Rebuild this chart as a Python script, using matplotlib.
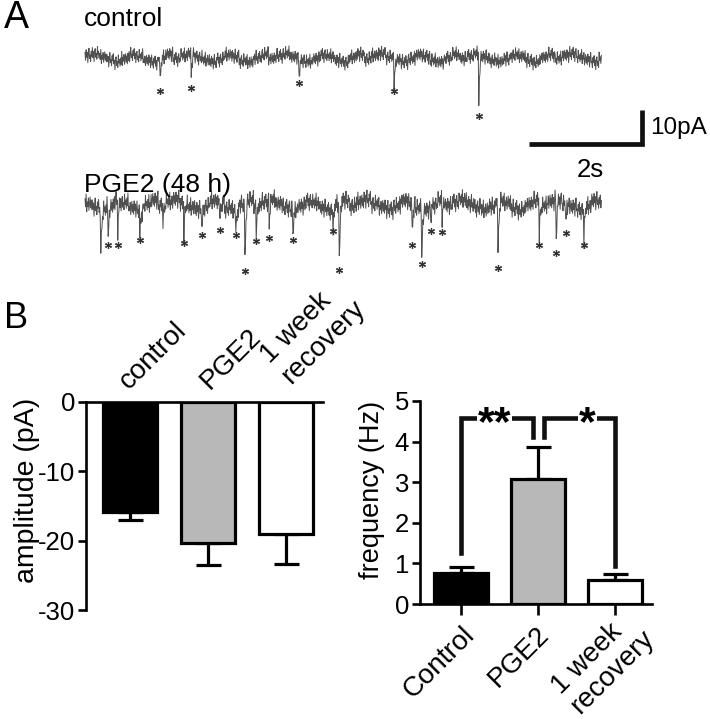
import numpy as np
import matplotlib
matplotlib.use('Agg')
import matplotlib.pyplot as plt
import matplotlib.transforms as mtransforms

plt.rcParams['font.family'] = ['Liberation Sans', 'DejaVu Sans']
plt.rcParams['axes.unicode_minus'] = False

# ---- bar chart data ----
amp_groups = ['control', 'PGE2', '1 week\nrecovery']
amp_mean = [-15.8, -20.3, -19.1]
amp_sem = [1.2, 3.2, 4.2]

freq_groups = ['Control', 'PGE2', '1 week\nrecovery']
freq_mean = [0.77, 3.08, 0.60]
freq_sem = [0.14, 0.79, 0.14]

bar_colors = ['black', '#b8b8b8', 'white']

# ---- example traces: event times (s) and peak amplitudes (pA) ----
ctrl_event_t = [1.33, 1.88, 3.79, 5.47, 6.97]
ctrl_event_amp = [-7.4, -6.5, -5.0, -7.4, -14.7]

pge2_event_t = [0.28, 0.41, 0.58, 0.97, 1.38, 1.75, 2.07, 2.39, 2.67, 2.83, 3.03, 3.26,
                3.68, 4.39, 4.50, 5.79, 5.96, 6.12, 6.32, 7.31, 8.04, 8.34, 8.51, 8.83]
pge2_event_amp = [-13.8, -9.4, -9.4, -7.9, -3.8, -8.8, -6.5, -5.0, -6.5, -17.1, -8.2, -7.4,
                  -7.9, -5.3, -16.8, -9.4, -15.0, -5.3, -5.6, -16.2, -9.4, -11.8, -5.9, -9.4]
pge2_event_star = [0, 1, 1, 1, 0, 1, 1, 1, 1, 1, 1, 1,
                   1, 1, 1, 1, 1, 1, 1, 1, 1, 1, 1, 1]

noise_fast = [0.8, -1.2, 1.5, -0.4, 0.9, -1.8, 0.3, 1.9, -0.7, 0.2, -1.5, 1.1, -0.2,
              1.6, -1.0, 0.5, -2.0, 0.7, 1.3, -0.9, 0.1, -1.4, 1.8, -0.3, 0.6, -1.1,
              1.0, -0.6, 2.0, -1.6, 0.4, -0.5, 1.2, -1.3, 0.0, 1.4, -0.8]
noise_slow = [0.6, 1.1, 0.2, -0.5, -1.0, -0.3, 0.8, 0.4, -0.7, -1.1, 0.1, 0.9, -0.2]

sweep_len = 9.15
dt = 0.01

W, H = 710, 719
fig = plt.figure(figsize=(W / 100, H / 100), dpi=100)


def px_axes(x0, y0, x1, y1):
    return fig.add_axes([x0 / W, 1 - y1 / H, (x1 - x0) / W, (y1 - y0) / H])


def make_trace(ev_t, ev_a, scale, shift):
    t = np.arange(0, sweep_len, dt)
    n = len(t)
    fast = np.resize(np.roll(noise_fast, shift), n)
    slow = np.resize(np.repeat(np.roll(noise_slow, shift), 13), n)
    y = scale * (fast + slow)
    kern = np.array([1.0, 0.6, 0.3, 0.15, 0.06])
    for t0, a in zip(ev_t, ev_a):
        i = int(round(t0 / dt))
        seg = y[i:i + 5]
        y[i:i + 5] = seg + a * kern[:len(seg)]
    return t, y


# ---------------- panel A: traces ----------------
axA = px_axes(60, 40, 700, 280)
axA.set_xlim(-25 / 56.5, 615 / 56.5)
axA.set_ylim(-222 / 3.4, 18 / 3.4)
axA.axis('off')

pge2_offset = -43.2
t, y = make_trace(ctrl_event_t, ctrl_event_amp, 1.15, 0)
axA.plot(t, y, color='#505050', lw=0.7)
axA.plot(ctrl_event_t, np.array(ctrl_event_amp) - 2.3, ls='none',
         marker=(6, 2, 0), ms=5, mew=0.9, color='#333333')

t, y = make_trace(pge2_event_t, pge2_event_amp, 1.45, 11)
axA.plot(t, y + pge2_offset, color='#505050', lw=0.7)
st_t = [a for a, s in zip(pge2_event_t, pge2_event_star) if s]
st_a = [a for a, s in zip(pge2_event_amp, pge2_event_star) if s]
axA.plot(st_t, np.array(st_a) - 2.3 + pge2_offset, ls='none',
         marker=(6, 2, 0), ms=5, mew=0.9, color='#333333')

# scale bar 2 s / 10 pA
axA.plot([7.86, 9.86, 9.86], [-25.3, -25.3, -15.3], color='#111111', lw=3.4,
         solid_joinstyle='miter', solid_capstyle='butt')
axA.text(10.0, -20.6, '10pA', fontsize=17.5, va='center', ha='left')
axA.text(8.95, -32.9, '2s', fontsize=18.5, va='center', ha='center')

fig.text(84 / W, 1 - 26 / H, 'control', fontsize=19, va='baseline', ha='left')
fig.text(84 / W, 1 - 192 / H, 'PGE2 (48 h)', fontsize=19, va='baseline', ha='left')
fig.text(4 / W, 1 - 28 / H, 'A', fontsize=27, va='baseline', ha='left')
fig.text(4 / W, 1 - 328 / H, 'B', fontsize=26, va='baseline', ha='left')

# ---------------- panel B left: amplitude ----------------
ax1 = px_axes(86, 402, 323, 610)
x = np.arange(len(amp_mean))
ax1.bar(x, amp_mean, width=0.69, color=bar_colors, edgecolor='black', linewidth=2.3, zorder=3)
ax1.errorbar(x, amp_mean, yerr=[amp_sem, np.zeros(3)], fmt='none', ecolor='black',
             elinewidth=2.3, capsize=9, capthick=2.3, zorder=2)
ax1.set_xlim(-0.564, 2.474)
ax1.set_ylim(-30, 0)
ax1.set_yticks([0, -10, -20, -30])
ax1.set_xticks([])
for s in ['bottom', 'right']:
    ax1.spines[s].set_visible(False)
for s in ['top', 'left']:
    ax1.spines[s].set_linewidth(1.9)
ax1.tick_params(axis='y', labelsize=18.5, length=6, width=1.9, pad=2)
top_dx = [23, 23, 27]
top_dy = [8, 8, 13]
for i, lab in enumerate(amp_groups):
    tr = mtransforms.offset_copy(ax1.transData, fig=fig, x=top_dx[i], y=top_dy[i], units='dots')
    ax1.text(i, 0, lab, transform=tr, rotation=45, ha='center', va='bottom',
             fontsize=20, multialignment='left', linespacing=1.15)
fig.text(27 / W, 1 - 490 / H, 'amplitude (pA)', fontsize=20.5, rotation=90,
         ha='center', va='center')

# ---------------- panel B right: frequency ----------------
ax2 = px_axes(420, 401, 652, 604)
ax2.bar(x, freq_mean, width=0.69, color=bar_colors, edgecolor='black', linewidth=2.3, zorder=3)
ax2.errorbar(x, freq_mean, yerr=[np.zeros(3), freq_sem], fmt='none', ecolor='black',
             elinewidth=2.3, capsize=9, capthick=2.3, zorder=2)
ax2.set_xlim(-0.532, 2.48)
ax2.set_ylim(0, 5)
ax2.set_yticks(range(6))
ax2.set_xticks(x)
ax2.set_xticklabels([])
for s in ['top', 'right']:
    ax2.spines[s].set_visible(False)
for s in ['bottom', 'left']:
    ax2.spines[s].set_linewidth(1.9)
ax2.tick_params(axis='y', labelsize=18.5, length=6, width=1.9, pad=2)
ax2.tick_params(axis='x', length=8, width=1.9)
bot_dx = [-22, -19, -12]
bot_dy = [-18, -18, -2]
for i, lab in enumerate(freq_groups):
    tr = mtransforms.offset_copy(ax2.transData, fig=fig, x=bot_dx[i], y=bot_dy[i], units='dots')
    ax2.text(i, 0, lab, transform=tr, rotation=45, ha='center', va='top',
             fontsize=20, multialignment='left', linespacing=1.1)
fig.text(372 / W, 1 - 490 / H, 'frequency (Hz)', fontsize=19.5, rotation=90,
         ha='center', va='center')

# significance brackets
bk = dict(color='#111111', lw=3.3, solid_joinstyle='miter', clip_on=False, zorder=4)
ax2.plot([0, 0, 0.935, 0.935], [1.25, 4.58, 4.58, 4.11], **bk)
ax2.plot([1.08, 1.08, 2.0, 2.0], [4.11, 4.58, 4.58, 0.94], **bk)
ax2.text(0.44, 4.42, '**', fontsize=31, fontweight='bold', ha='center', va='center',
         zorder=5, bbox=dict(facecolor='white', edgecolor='none', pad=0.5))
ax2.text(1.64, 4.42, '*', fontsize=31, fontweight='bold', ha='center', va='center',
         zorder=5, bbox=dict(facecolor='white', edgecolor='none', pad=0.5))

fig.savefig('out.png', dpi=100)
